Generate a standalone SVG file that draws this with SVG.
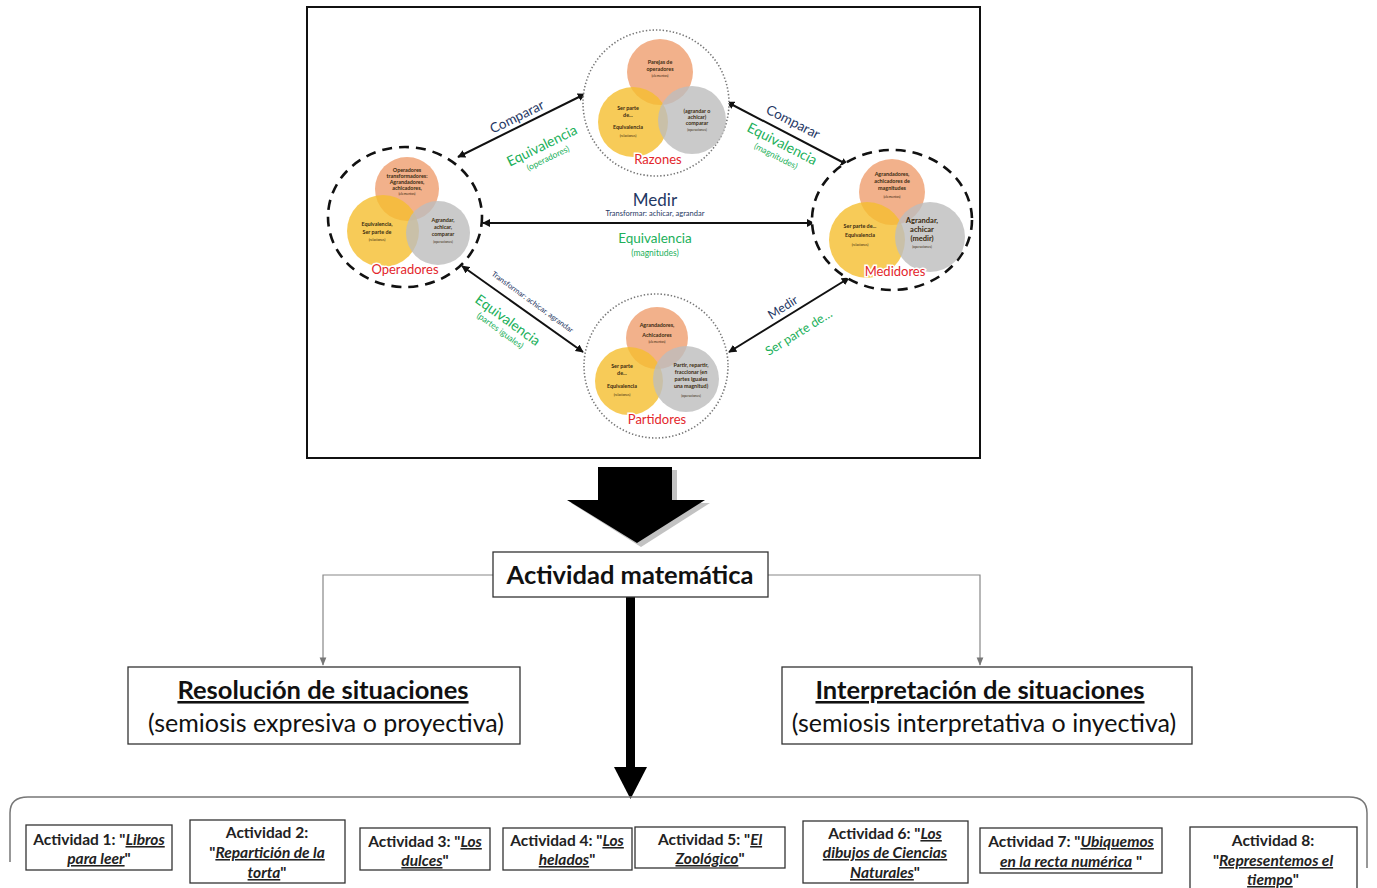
<svg xmlns="http://www.w3.org/2000/svg" width="1377" height="888" viewBox="0 0 1377 888">
<style>
text{font-family:Lato,"Open Sans","Liberation Sans",sans-serif}
.o{fill:#EFA072;fill-opacity:.82}
.y{fill:#F5BE2E;fill-opacity:.8}
.g{fill:#BDBDBD;fill-opacity:.8}
.ct{font-size:5.4px;font-weight:bold;fill:#3a2a10;text-anchor:middle}
.tiny{font-size:3.4px;fill:#3a2a10;text-anchor:middle}
.red{font-size:13px;fill:#E3262B;text-anchor:middle;stroke:#fff;stroke-width:3;paint-order:stroke}
.dot{fill:#fff;stroke:#777;stroke-width:1.6;stroke-dasharray:1.4 2}
.dash{fill:#fff;stroke:#111;stroke-width:2.6;stroke-dasharray:10 7}
.nv{fill:#1F3864;text-anchor:middle}
.gr{fill:#21B05A;text-anchor:middle}
.ln{stroke:#111;stroke-width:2;fill:none;marker-start:url(#ah);marker-end:url(#ah)}
.box{fill:#fff;stroke:#333;stroke-width:1.3}
.act{font-size:15.5px;font-weight:bold;fill:#222;text-anchor:middle}
.u{text-decoration:underline;font-style:italic}
.big{font-weight:bold;font-size:25.5px;fill:#111;text-anchor:middle}
.sub{font-size:25px;fill:#111;text-anchor:middle}
.gl{stroke:#888;stroke-width:1.2;fill:none;marker-end:url(#gh)}
</style>
<defs>
<marker id="ah" viewBox="0 0 10 10" refX="9" refY="5" markerWidth="4" markerHeight="4" orient="auto-start-reverse"><path d="M0 0L10 5L0 10z" fill="#111"/></marker>
<marker id="gh" viewBox="0 0 10 10" refX="9" refY="5" markerWidth="7" markerHeight="7" orient="auto"><path d="M0 1L10 5L0 9z" fill="#777"/></marker>
</defs>
<rect width="1377" height="888" fill="#fff"/>
<rect x="307" y="7" width="673" height="451" fill="#fff" stroke="#111" stroke-width="2"/>

<g id="connectors">
<line class="ln" x1="458" y1="157" x2="585" y2="94"/>
<line class="ln" x1="727" y1="102" x2="848" y2="165"/>
<line class="ln" x1="483" y1="223" x2="814" y2="223"/>
<line class="ln" x1="462" y1="266" x2="583" y2="352"/>
<line class="ln" x1="729" y1="352" x2="849" y2="278"/>
<g transform="translate(519,121) rotate(-26)"><text class="nv" font-size="13.5">Comparar</text></g>
<g transform="translate(544,150) rotate(-26)"><text class="gr" font-size="14">Equivalencia</text><text class="gr" font-size="8.5" y="12">(operadores)</text></g>
<g transform="translate(791,126) rotate(27)"><text class="nv" font-size="13.5">Comparar</text></g>
<g transform="translate(780,148) rotate(27)"><text class="gr" font-size="14">Equivalencia</text><text class="gr" font-size="8.5" y="12">(magnitudes)</text></g>
<text class="nv" x="655" y="206" font-size="17">Medir</text>
<text class="nv" x="655" y="216" font-size="7.5">Transformar: achicar, agrandar</text>
<text class="gr" x="655" y="243" font-size="13.5">Equivalencia</text>
<text class="gr" x="655" y="256" font-size="8.5">(magnitudes)</text>
<g transform="translate(531,304) rotate(36)"><text class="nv" font-size="7.5">Transformar: achicar, agrandar</text></g>
<g transform="translate(505,324) rotate(36)"><text class="gr" font-size="14">Equivalencia</text><text class="gr" font-size="8.5" y="11">(partes iguales)</text></g>
<g transform="translate(785,311) rotate(-32)"><text class="nv" font-size="12.5">Medir</text></g>
<g transform="translate(801,336) rotate(-32)"><text class="gr" font-size="12.5">Ser parte de…</text></g>
<polyline class="gl" points="493,575 323,575 323,665"/>
<polyline class="gl" points="768,575 980,575 980,665"/>
<rect x="626" y="597" width="9" height="172" fill="#000"/>
<polygon points="614,767 647,767 630.5,799" fill="#000"/>
</g>

<g id="razones">
<circle class="dot" cx="656" cy="103" r="73"/>
<circle class="o" cx="660" cy="72" r="33"/>
<circle class="y" cx="633" cy="122" r="35"/>
<circle class="g" cx="692" cy="120" r="34"/>
<text class="ct" x="660" y="64">Parejas de</text><text class="ct" x="660" y="71">operadores</text><text class="tiny" x="660" y="77">(elementos)</text>
<text class="ct" x="628" y="110">Ser parte</text><text class="ct" x="628" y="117">de...</text><text class="ct" x="628" y="129">Equivalencia</text><text class="tiny" x="628" y="137">(relaciones)</text>
<text class="ct" x="697" y="113">(agrandar o</text><text class="ct" x="697" y="119">achicar)</text><text class="ct" x="697" y="125">comparar</text><text class="tiny" x="697" y="131">(operaciones)</text>
<text class="red" x="658" y="164">Razones</text>
</g>

<g id="operadores">
<ellipse class="dash" cx="405" cy="217" rx="77" ry="70"/>
<circle class="o" cx="407" cy="189" r="32"/>
<circle class="y" cx="383" cy="231" r="36"/>
<circle class="g" cx="438" cy="233" r="32"/>
<text class="ct" x="407" y="172">Operadores</text><text class="ct" x="407" y="178">transformadores:</text><text class="ct" x="407" y="184">Agrandadores,</text><text class="ct" x="407" y="190">achicadores,</text><text class="tiny" x="407" y="195">(elementos)</text>
<text class="ct" x="377" y="226">Equivalencia,</text><text class="ct" x="377" y="234">Ser parte de</text><text class="tiny" x="377" y="241">(relaciones)</text>
<text class="ct" x="443" y="222">Agrandar,</text><text class="ct" x="443" y="229">achicar,</text><text class="ct" x="443" y="236">comparar</text><text class="tiny" x="443" y="243">(operaciones)</text>
<text class="red" x="405" y="274">Operadores</text>
</g>

<g id="medidores">
<ellipse class="dash" cx="892" cy="220" rx="80" ry="70"/>
<circle class="o" cx="892" cy="192" r="33"/>
<circle class="y" cx="867" cy="240" r="38"/>
<circle class="g" cx="930" cy="237" r="35"/>
<text class="ct" x="892" y="176">Agrandadores,</text><text class="ct" x="892" y="183">achicadores de</text><text class="ct" x="892" y="190">magnitudes</text><text class="tiny" x="892" y="198">(elementos)</text>
<text class="ct" x="860" y="228">Ser parte de...</text><text class="ct" x="860" y="237">Equivalencia</text><text class="tiny" x="860" y="246">(relaciones)</text>
<text class="ct" x="922" y="223" style="font-size:7.5px">Agrandar,</text><text class="ct" x="922" y="232" style="font-size:7.5px">achicar</text><text class="ct" x="922" y="241" style="font-size:7.5px">(medir)</text><text class="tiny" x="922" y="248">(operaciones)</text>
<text class="red" x="895" y="276">Medidores</text>
</g>

<g id="partidores">
<circle class="dot" cx="656" cy="366" r="72"/>
<circle class="o" cx="657" cy="338" r="31"/>
<circle class="y" cx="629" cy="381" r="34"/>
<circle class="g" cx="686" cy="379" r="33"/>
<text class="ct" x="657" y="327">Agrandadores,</text><text class="ct" x="657" y="337">Achicadores</text><text class="tiny" x="657" y="343">(elementos)</text>
<text class="ct" x="622" y="368">Ser parte</text><text class="ct" x="622" y="375">de...</text><text class="ct" x="622" y="388">Equivalencia</text><text class="tiny" x="622" y="396">(relaciones)</text>
<text class="ct" x="691" y="367">Partir, repartir,</text><text class="ct" x="691" y="374">fraccionar (en</text><text class="ct" x="691" y="381">partes iguales</text><text class="ct" x="691" y="388">una magnitud)</text><text class="tiny" x="691" y="397">(operaciones)</text>
<text class="red" x="657" y="424">Partidores</text>
</g>

<g id="big-arrow">
<polygon points="602,470 677,470 677,503 710,503 641,547 571,503 602,503" fill="#999" opacity=".6"/>
<polygon points="598,467 672,467 672,500 705,500 637,543 567,500 598,500" fill="#000"/>
</g>

<g id="actividad-matematica">
<rect class="box" x="493" y="552" width="275" height="45"/>
<text class="big" x="630" y="584">Actividad matemática</text>
</g>

<g id="resolucion">
<rect class="box" x="128" y="667" width="392" height="77"/>
<text class="big" x="323" y="699" text-decoration="underline">Resolución de situaciones </text>
<text class="sub" x="326" y="732">(semiosis expresiva o proyectiva)</text>
</g>

<g id="interpretacion">
<rect class="box" x="782" y="667" width="410" height="77"/>
<text class="big" x="980" y="699" text-decoration="underline">Interpretación de situaciones </text>
<text class="sub" x="984" y="732">(semiosis interpretativa o inyectiva)</text>
</g>

<g id="bracket">
<path d="M10 862 L10 813 Q10 797 28 797 L1349 797 Q1367 797 1367 813 L1367 868" fill="none" stroke="#777" stroke-width="1.5"/>
</g>

<g id="act1"><rect class="box" x="26" y="825" width="146" height="45"/><text class="act" x="99" y="845">Actividad 1: "<tspan class="u">Libros</tspan></text><text class="act" x="99" y="864"><tspan class="u">para leer</tspan>"</text></g>
<g id="act2"><rect class="box" x="190" y="820" width="155" height="63"/><text class="act" x="267" y="838">Actividad 2:</text><text class="act" x="267" y="858">"<tspan class="u">Repartición de la</tspan></text><text class="act" x="267" y="878"><tspan class="u">torta</tspan>"</text></g>
<g id="act3"><rect class="box" x="360" y="828" width="130" height="42"/><text class="act" x="425" y="847">Actividad 3: "<tspan class="u">Los</tspan></text><text class="act" x="425" y="866"><tspan class="u">dulces</tspan>"</text></g>
<g id="act4"><rect class="box" x="503" y="828" width="129" height="42"/><text class="act" x="567" y="846">Actividad 4: "<tspan class="u">Los</tspan></text><text class="act" x="567" y="865"><tspan class="u">helados</tspan>"</text></g>
<g id="act5"><rect class="box" x="635" y="827" width="150" height="41"/><text class="act" x="710" y="845">Actividad 5: "<tspan class="u">El</tspan></text><text class="act" x="710" y="864"><tspan class="u">Zoológico</tspan>"</text></g>
<g id="act6"><rect class="box" x="803" y="821" width="165" height="62"/><text class="act" x="885" y="839">Actividad 6: "<tspan class="u">Los</tspan></text><text class="act" x="885" y="858"><tspan class="u">dibujos de Ciencias</tspan></text><text class="act" x="885" y="878"><tspan class="u">Naturales</tspan>"</text></g>
<g id="act7"><rect class="box" x="980" y="828" width="182" height="45"/><text class="act" x="1071" y="847">Actividad 7: "<tspan class="u">Ubiquemos</tspan></text><text class="act" x="1071" y="867"><tspan class="u">en la recta numérica</tspan> "</text></g>
<g id="act8"><rect class="box" x="1190" y="827" width="167" height="66"/><text class="act" x="1273" y="846">Actividad 8:</text><text class="act" x="1273" y="866">"<tspan class="u">Representemos el</tspan></text><text class="act" x="1273" y="885"><tspan class="u">tiempo</tspan>"</text></g>
</svg>
